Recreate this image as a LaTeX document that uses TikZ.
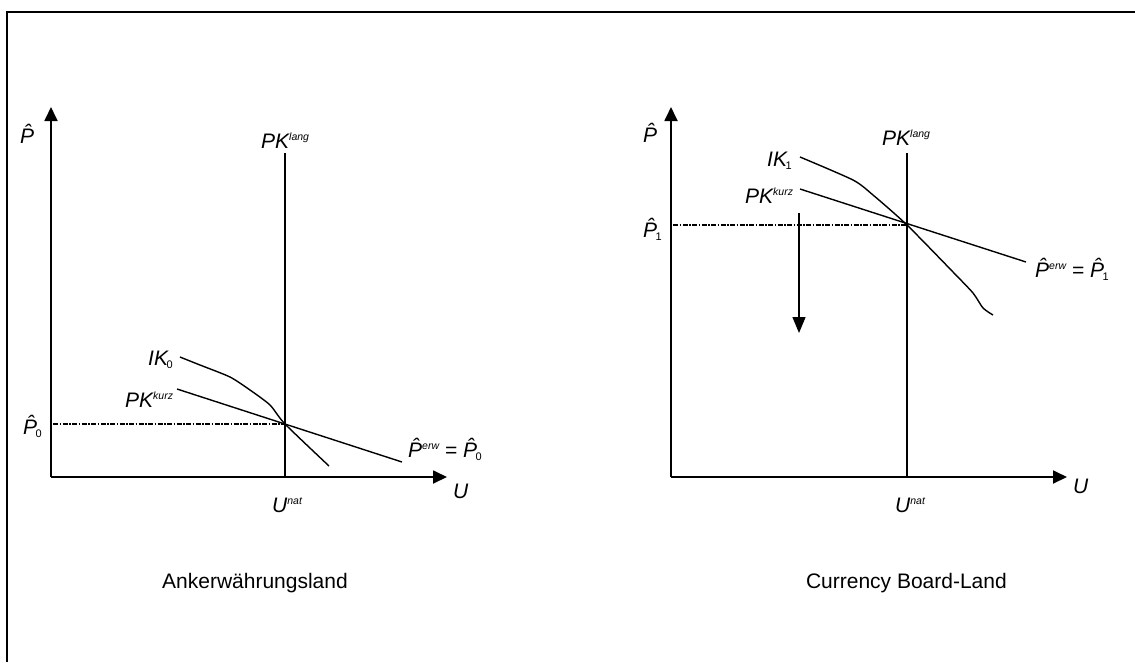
\documentclass[tikz,border=0pt]{standalone}
\usepackage{fontspec}
\setmainfont{Liberation Sans}
\usetikzlibrary{arrows.meta}

% hoch- und tiefgestellte indizes
\newcommand{\hoch}[1]{\raisebox{7.5pt}{\fontsize{10.5}{10.5}\selectfont\itshape #1}}
\newcommand{\tief}[1]{\kern-1.5pt\raisebox{-3pt}{\fontsize{11}{11}\selectfont\upshape #1}}

\tikzset{
  achse/.style={line width=1.8pt,-{Triangle[length=14pt,width=13pt]}},
  kurve/.style={line width=1.4pt},
  hilfslinie/.style={line width=2pt,dash pattern=on 5pt off 1.5pt on 1.5pt off 1.5pt},
  lbl/.style={inner sep=0pt,anchor=base west,font=\fontsize{21}{24}\selectfont\itshape},
  titel/.style={inner sep=0pt,anchor=base east,font=\fontsize{21}{24}\selectfont},
}

\begin{document}
\begin{tikzpicture}[x=1pt,y=-1pt]
  \useasboundingbox (0,0) rectangle (1135,662);
  % rahmen
  \draw[line width=1.6pt] (7,662) |- (1135,12);

  % ankerwaehrungsland
  \coordinate (O0) at (51,477);  \coordinate (Py0) at (51,107);
  \coordinate (Ux0) at (447,477);\coordinate (L0) at (285,153);
  \coordinate (N0) at (285,477); \coordinate (S0) at (285,424);
  \coordinate (K0a) at (177,389);\coordinate (K0b) at (402,462);
  \coordinate (H0) at (53,424);
  \draw[achse] (O0) -- (Py0);
  \draw[achse] (O0) -- (Ux0);
  \draw[kurve] (L0) -- (N0);
  \draw[hilfslinie] (H0) -- (S0);
  \draw[kurve] (K0a) -- (K0b);
  \draw[kurve] plot[smooth,tension=0.4] coordinates
    {(180,357) (200,365) (230,377) (250,390) (270,405) (S0) (329,466)};
  \node[lbl] (p0) at (20,143) {\^{P}};
  \node[lbl] (pkl0) at (261,148) {PK\hoch{lang}};
  \node[lbl] (ik0) at (148,365) {IK\tief{0}};
  \node[lbl] (pkk0) at (125,407) {PK\hoch{kurz}};
  \node[lbl] (ph0) at (23,434) {\^{P}\tief{0}};
  \node[lbl] (erw0) at (408,457) {\^{P}\hoch{erw} = \^{P}\tief{0}};
  \node[lbl] (u0) at (453,498) {U};
  \node[lbl] (un0) at (272,512) {U\hoch{nat}};
  \node[titel] (cap0) at (348,588) {Ankerwährungsland};

  % currency board-land
  \coordinate (O1) at (671,477);  \coordinate (Py1) at (671,107);
  \coordinate (Ux1) at (1067,477);\coordinate (L1) at (907,153);
  \coordinate (N1) at (907,477);  \coordinate (S1) at (907,225);
  \coordinate (K1a) at (800,189); \coordinate (K1b) at (1026,262);
  \coordinate (H1) at (673,225);
  \coordinate (A1a) at (799,213); \coordinate (A1b) at (799,333);
  \draw[achse] (O1) -- (Py1);
  \draw[achse] (O1) -- (Ux1);
  \draw[kurve] (L1) -- (N1);
  \draw[hilfslinie] (H1) -- (S1);
  \draw[kurve] (K1a) -- (K1b);
  \draw[kurve] plot[smooth,tension=0.4] coordinates
    {(800,157) (853,180) (873,195) (S1) (953,272) (973,293) (983,308) (993,315)};
  \draw[kurve,-{Triangle[length=16pt,width=13pt]}] (A1a) -- (A1b);
  \node[lbl] (p1) at (643,142) {\^{P}};
  \node[lbl] (pkl1) at (882,145) {PK\hoch{lang}};
  \node[lbl] (ik1) at (767,166) {IK\tief{1}};
  \node[lbl] (pkk1) at (745,203) {PK\hoch{kurz}};
  \node[lbl] (ph1) at (643,237) {\^{P}\tief{1}};
  \node[lbl] (erw1) at (1035,277) {\^{P}\hoch{erw} = \^{P}\tief{1}};
  \node[lbl] (u1) at (1073,493) {U};
  \node[lbl] (un1) at (895,512) {U\hoch{nat}};
  \node[titel] (cap1) at (1007,588) {Currency Board-Land};
\end{tikzpicture}
\end{document}
